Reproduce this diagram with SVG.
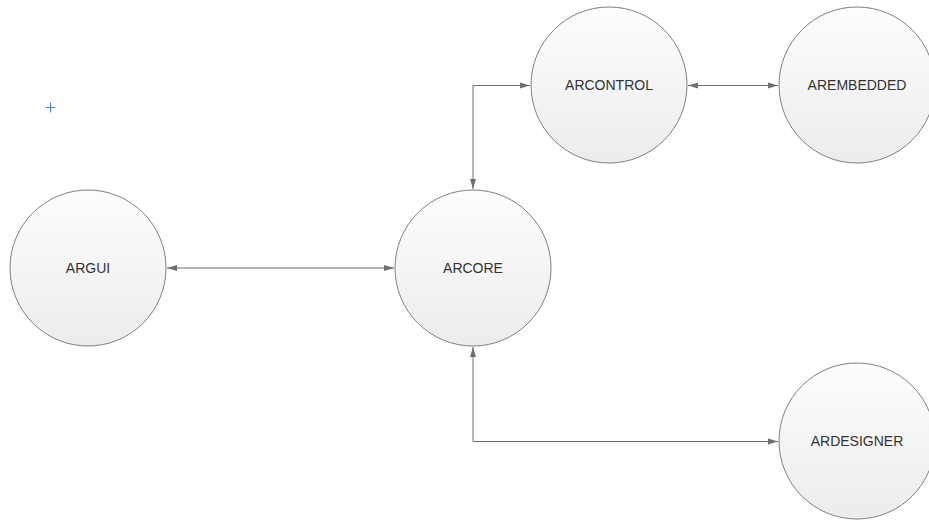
<svg xmlns="http://www.w3.org/2000/svg" width="929" height="520" viewBox="0 0 929 520">
<style>
.node circle{fill:url(#g);stroke:#7f7f7f;stroke-width:1}
.node text{font-family:"Liberation Sans",Arial,sans-serif;font-size:14px;fill:#333;text-anchor:middle;dominant-baseline:central}
.edge{fill:none;stroke:#6f6f6f;stroke-width:1;marker-start:url(#a);marker-end:url(#a)}
</style>
<defs>
<linearGradient id="g" x1="0" y1="0" x2="0" y2="1">
<stop offset="0" stop-color="#fdfdfd"/>
<stop offset="1" stop-color="#ececec"/>
</linearGradient>
<marker id="a" viewBox="0 0 10 8" refX="10" refY="4" markerWidth="10" markerHeight="8" markerUnits="userSpaceOnUse" orient="auto-start-reverse">
<path d="M0,1 L10,4 L0,7 Z" fill="#6f6f6f"/>
</marker>
</defs>
<rect width="929" height="520" fill="#fff"/>
<g id="cursor" stroke="#4a86e8" stroke-width="1">
<line x1="45.5" y1="107.5" x2="55.5" y2="107.5"/>
<line x1="50.5" y1="102.5" x2="50.5" y2="112.5"/>
</g>
<g id="connectors">
<path class="edge" d="M167,268 H394"/>
<path class="edge" d="M473,189 V85.5 H530"/>
<path class="edge" d="M688,85.5 H778"/>
<path class="edge" d="M473,347 V441.5 H778"/>
</g>
<g id="ARGUI" class="node"><circle cx="88" cy="268" r="78"/><text x="88" y="268">ARGUI</text></g>
<g id="ARCORE" class="node"><circle cx="473" cy="268" r="78"/><text x="473" y="268">ARCORE</text></g>
<g id="ARCONTROL" class="node"><circle cx="609" cy="85" r="78"/><text x="609" y="85">ARCONTROL</text></g>
<g id="AREMBEDDED" class="node"><circle cx="857" cy="85" r="78"/><text x="857" y="85">AREMBEDDED</text></g>
<g id="ARDESIGNER" class="node"><circle cx="857" cy="441" r="78"/><text x="857" y="441">ARDESIGNER</text></g>
</svg>
